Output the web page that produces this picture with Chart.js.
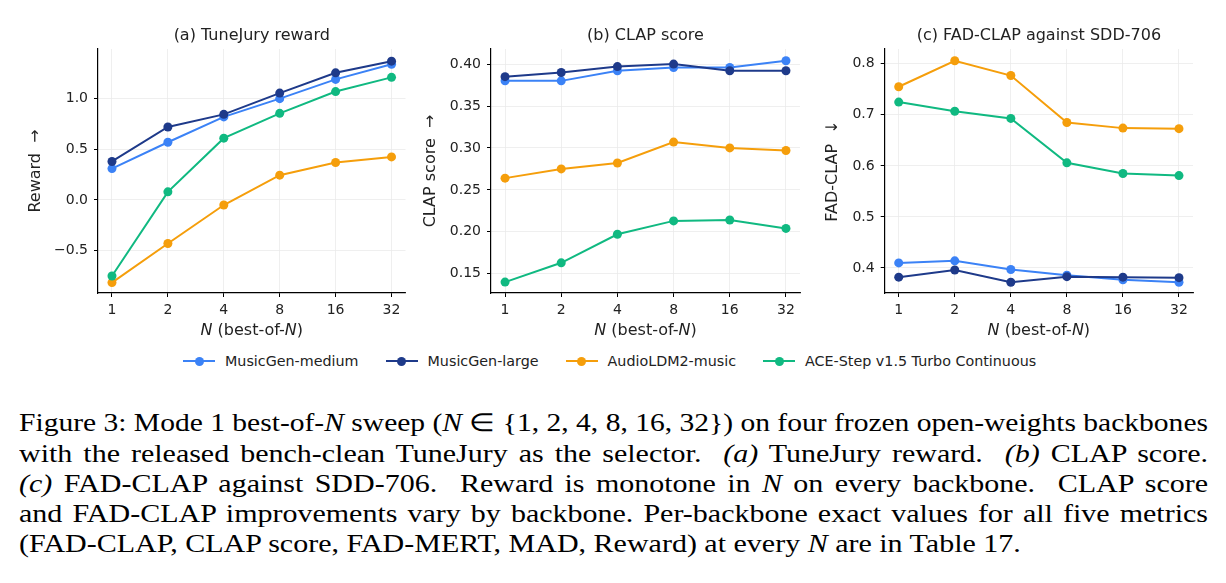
<!DOCTYPE html>
<html>
<head>
<meta charset="utf-8">
<script src="https://cdn.jsdelivr.net/npm/chart.js@4.4.0/dist/chart.umd.min.js"></script>
<style>
  body { margin: 0; background: #fff; }
  #page { position: relative; width: 1226px; height: 583px; overflow: hidden; background: #fff; }
  canvas { position: absolute; top: 0; }
  #legend { position: absolute; left: 183px; top: 351px; display: flex; font: 14.3px 'DejaVu Sans'; color: #222; }
  .item { display: flex; align-items: center; margin-right: 27px; height: 20px; }
  .swatch { position: relative; width: 32px; height: 20px; margin-right: 10px; }
  .swatch .ln { position: absolute; left: 0; right: 0; top: 9px; height: 2px; }
  .swatch .dot { position: absolute; left: 11.5px; top: 5.5px; width: 9px; height: 9px; border-radius: 50%; }
  #caption { position: absolute; left: 19px; top: 408.4px; font: 25px 'Liberation Serif'; line-height: 30.2px; color: #000; }
  #caption .line { transform-origin: 0 0; white-space: nowrap; }
  #caption .line span { white-space: nowrap; }
</style>
</head>
<body>
<div id="page">
  <canvas id="chartA" width="410" height="345" style="left:0px"></canvas>
  <canvas id="chartB" width="400" height="345" style="left:410px"></canvas>
  <canvas id="chartC" width="416" height="345" style="left:810px"></canvas>
  <div id="legend"></div>
  <div id="caption">
    <div class="line"><span>Figure 3: Mode 1 best-of-<i>N</i> sweep (<i>N</i> &isin; {1, 2, 4, 8, 16, 32}) on four frozen open-weights backbones</span></div>
    <div class="line"><span>with the released bench-clean TuneJury as the selector. &nbsp;<i>(a)</i> TuneJury reward. &nbsp;<i>(b)</i> CLAP score.</span></div>
    <div class="line"><span><i>(c)</i> FAD-CLAP against SDD-706. &nbsp;Reward is monotone in <i>N</i> on every backbone. &nbsp;CLAP score</span></div>
    <div class="line"><span>and FAD-CLAP improvements vary by backbone. Per-backbone exact values for all five metrics</span></div>
    <div class="line last"><span>(FAD-CLAP, CLAP score, FAD-MERT, MAD, Reward) at every <i>N</i> are in Table 17.</span></div>
  </div>
</div>
<script>
// best-of-N budgets (x axis, evenly spaced)
const nLabels = ['1', '2', '4', '8', '16', '32'];
const backbones = ['MusicGen-medium', 'MusicGen-large', 'AudioLDM2-music', 'ACE-Step v1.5 Turbo Continuous'];
const colors = ['#3b82f6', '#1e3a8a', '#f59e0b', '#10b981'];

// (a) TuneJury reward
const rewardMedium = [0.31, 0.57, 0.82, 1.00, 1.19, 1.34];
const rewardLarge = [0.38, 0.72, 0.845, 1.055, 1.255, 1.37];
const rewardAudioLDM = [-0.815, -0.43, -0.05, 0.245, 0.37, 0.425];
const rewardAce = [-0.75, 0.08, 0.61, 0.855, 1.07, 1.21];
const rewardTicks = [-0.5, 0.0, 0.5, 1.0];

// (b) CLAP score
const clapMedium = [0.380, 0.380, 0.392, 0.396, 0.396, 0.404];
const clapLarge = [0.385, 0.390, 0.397, 0.400, 0.392, 0.392];
const clapAudioLDM = [0.264, 0.275, 0.282, 0.307, 0.300, 0.297];
const clapAce = [0.140, 0.163, 0.197, 0.213, 0.214, 0.204];
const clapTicks = [0.15, 0.20, 0.25, 0.30, 0.35, 0.40];

// (c) FAD-CLAP against SDD-706
const fadMedium = [0.410, 0.414, 0.397, 0.386, 0.377, 0.372];
const fadLarge = [0.382, 0.396, 0.372, 0.383, 0.382, 0.381];
const fadAudioLDM = [0.755, 0.806, 0.777, 0.685, 0.674, 0.673];
const fadAce = [0.725, 0.707, 0.693, 0.606, 0.585, 0.581];
const fadTicks = [0.4, 0.5, 0.6, 0.7, 0.8];

const FONT = 'DejaVu Sans';
const TEXT = '#222';

// draws "N (best-of-N)" with italic N under the x axis
const xLabelPlugin = {
    id: 'xlabel',
    afterDraw(chart) {
        const ctx = chart.ctx;
        const area = chart.chartArea;
        const parts = [['N', 'italic '], [' (best-of-', ''], ['N', 'italic '], [')', '']];
        ctx.save();
        ctx.fillStyle = TEXT;
        ctx.textBaseline = 'middle';
        ctx.textAlign = 'left';
        let total = 0;
        parts.forEach(p => {
            ctx.font = p[1] + '16px "' + FONT + '"';
            total += ctx.measureText(p[0]).width;
        });
        let x = (area.left + area.right) / 2 - total / 2;
        parts.forEach(p => {
            ctx.font = p[1] + '16px "' + FONT + '"';
            ctx.fillText(p[0], x, 331);
            x += ctx.measureText(p[0]).width;
        });
        ctx.restore();
    }
};

function makePanel(id, p) {
    const datasets = p.series.map((values, i) => ({
        label: backbones[i],
        data: values.map((v, k) => ({ x: k, y: v })),
        borderColor: colors[i],
        backgroundColor: colors[i],
        pointBackgroundColor: colors[i],
        borderWidth: 2,
        pointRadius: 4.5,
        pointBorderWidth: 0,
        pointHoverRadius: 4.5,
        order: 3 - i
    }));

    new Chart(document.getElementById(id), {
        type: 'line',
        data: { datasets },
        plugins: [xLabelPlugin],
        options: {
            responsive: false,
            animation: false,
            layout: { padding: { left: 0, right: p.padRight, top: 0, bottom: 0 } },
            plugins: {
                legend: { display: false },
                tooltip: { enabled: false },
                title: {
                    display: true,
                    text: p.title,
                    fullSize: false,
                    color: TEXT,
                    font: { family: FONT, size: 16, weight: 'normal' },
                    padding: { top: 26.4, bottom: 3.4 }
                }
            },
            scales: {
                x: {
                    type: 'linear',
                    min: -0.25,
                    max: 5.25,
                    afterBuildTicks: s => { s.ticks = nLabels.map((_, k) => ({ value: k })); },
                    afterFit: s => { s.height = 52; },
                    ticks: {
                        callback: v => nLabels[v],
                        color: TEXT,
                        font: { family: FONT, size: 14 },
                        padding: 5,
                        maxRotation: 0,
                        autoSkip: false
                    },
                    grid: { color: '#ebebeb', lineWidth: 0.8, tickLength: 4, tickColor: '#000', tickWidth: 1 },
                    border: { display: true, color: '#000', width: 1.2 }
                },
                y: {
                    type: 'linear',
                    min: p.yMin,
                    max: p.yMax,
                    afterBuildTicks: s => { s.ticks = p.yTicks.map(v => ({ value: v })); },
                    afterFit: s => { s.width = p.yWidth; },
                    ticks: {
                        callback: p.fmt,
                        color: TEXT,
                        font: { family: FONT, size: 14 },
                        padding: 6
                    },
                    title: {
                        display: true,
                        text: p.yTitle,
                        color: TEXT,
                        font: { family: FONT, size: 16 },
                        padding: { top: p.yTitlePad, bottom: 0 }
                    },
                    grid: { color: '#ebebeb', lineWidth: 0.8, tickLength: 4, tickColor: '#000', tickWidth: 1 },
                    border: { display: true, color: '#000', width: 1.2 }
                }
            }
        }
    });
}

makePanel('chartA', {
    title: '(a) TuneJury reward',
    yTitle: 'Reward  \u2192',
    series: [rewardMedium, rewardLarge, rewardAudioLDM, rewardAce],
    yMin: -0.918, yMax: 1.49, yTicks: rewardTicks,
    fmt: v => (v < 0 ? '\u2212' + Math.abs(v).toFixed(1) : v.toFixed(1)),
    yWidth: 98, padRight: 3, yTitlePad: 26.4
});

makePanel('chartB', {
    title: '(b) CLAP score',
    yTitle: 'CLAP score  \u2192',
    series: [clapMedium, clapLarge, clapAudioLDM, clapAce],
    yMin: 0.127, yMax: 0.418, yTicks: clapTicks,
    fmt: v => v.toFixed(2),
    yWidth: 81, padRight: 10, yTitlePad: 11
});

makePanel('chartC', {
    title: '(c) FAD-CLAP against SDD-706',
    yTitle: 'FAD-CLAP  \u2193',
    series: [fadMedium, fadLarge, fadAudioLDM, fadAce],
    yMin: 0.351, yMax: 0.829, yTicks: fadTicks,
    fmt: v => v.toFixed(1),
    yWidth: 74.7, padRight: 33, yTitlePad: 13.7
});

// shared legend under the three panels
const legend = document.getElementById('legend');
backbones.forEach((name, i) => {
    const item = document.createElement('div');
    item.className = 'item';
    item.innerHTML = '<div class="swatch"><div class="ln" style="background:' + colors[i] + '"></div>' +
        '<div class="dot" style="background:' + colors[i] + '"></div></div><span>' + name + '</span>';
    legend.appendChild(item);
});

// caption: full lines are stretched to the text width, the last one keeps the base scale
const CAP_W = 1189;
const CAP_SCALE = 1.2;
document.querySelectorAll('#caption .line').forEach(line => {
    const span = line.querySelector('span');
    const w = span.getBoundingClientRect().width;
    if (line.classList.contains('last')) {
        line.style.transform = 'scaleX(' + CAP_SCALE + ')';
        return;
    }
    const s = Math.min(CAP_SCALE, CAP_W / w);
    line.style.width = (CAP_W / s) + 'px';
    line.style.whiteSpace = 'normal';
    line.style.textAlign = 'justify';
    line.style.textAlignLast = 'justify';
    span.style.whiteSpace = 'normal';
    line.style.transform = 'scaleX(' + s + ')';
});
</script>
</body>
</html>
